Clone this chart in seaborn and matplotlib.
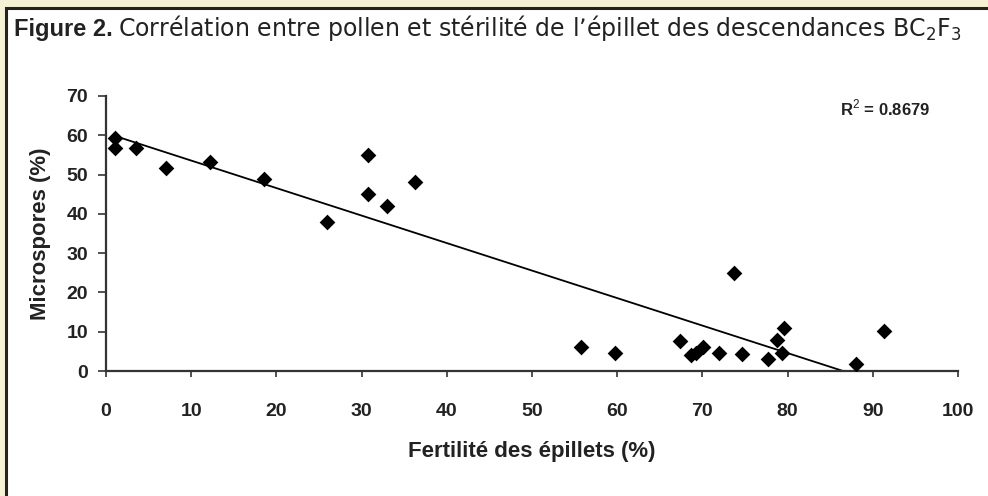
import matplotlib
matplotlib.use("Agg")
import matplotlib.pyplot as plt
from matplotlib.patches import Rectangle
import seaborn as sns
import pandas as pd

# values
fertilite = [1.0, 1.0, 3.5, 7.0, 12.2, 18.6, 25.9, 30.7, 30.7, 33.0, 36.3,
             55.8, 59.7, 67.4, 68.7, 69.3, 70.1, 72.0, 74.6, 73.7, 77.7,
             78.7, 79.6, 79.4, 88.0, 91.3]
microspores = [59.2, 56.8, 56.8, 51.8, 53.1, 48.9, 37.9, 55.0, 45.1, 42.1, 48.2,
               6.0, 4.7, 7.6, 4.2, 4.7, 6.0, 4.7, 4.4, 24.9, 3.1,
               7.9, 10.9, 4.5, 1.8, 10.2]
x_ticks = [0, 10, 20, 30, 40, 50, 60, 70, 80, 90, 100]
y_ticks = [0, 10, 20, 30, 40, 50, 60, 70]
r2_label = "R$^2$ = 0.8679"

df = pd.DataFrame({"fert": fertilite, "micro": microspores})

sns.set_style("white")
plt.rcParams["font.family"] = ["Liberation Sans", "DejaVu Sans"]
plt.rcParams["mathtext.fontset"] = "custom"
plt.rcParams["mathtext.rm"] = "Liberation Sans"
plt.rcParams["mathtext.bf"] = "Liberation Sans:bold"

fig = plt.figure(figsize=(9.88, 4.96), dpi=100)
fig.patch.set_facecolor("#f4f1d4")
# white frame behind the chart
frame = Rectangle((5.5 / 988, -0.1), 1.1, 1 - 7.5 / 496 + 0.1,
                  transform=fig.transFigure, facecolor="white",
                  edgecolor="#222222", linewidth=2.2, zorder=-5)
fig.patches.append(frame)

ax = fig.add_axes([106 / 988, 1 - 371 / 496, 852 / 988, 275 / 496])
ax.set_facecolor("none")
ax.set_zorder(2)

sns.regplot(data=df, x="fert", y="micro", ax=ax, ci=None, truncate=True,
            marker="D",
            scatter_kws={"s": 64, "color": "black", "alpha": 1,
                         "linewidths": 0, "zorder": 3},
            line_kws={"color": "black", "linewidth": 1.3, "zorder": 2})

ax.set_xlim(0, 100)
ax.set_ylim(0, 70)
ax.set_xticks(x_ticks)
ax.set_yticks(y_ticks)
sns.despine(ax=ax)
for s in ["left", "bottom"]:
    ax.spines[s].set_color("#333333")
    ax.spines[s].set_linewidth(1.6)
ax.tick_params(axis="x", direction="out", length=4, width=1.2, color="#333333",
               pad=19, labelsize=14, bottom=True)
ax.tick_params(axis="y", direction="out", length=6, width=1.2, color="#333333",
               pad=7, labelsize=14, left=True)
for lab in ax.get_xticklabels() + ax.get_yticklabels():
    lab.set_fontweight("bold")
    lab.set_color("#222222")

ax.set_xlabel("Fertilité des épillets (%)", fontsize=16, fontweight="bold",
              color="#222222", labelpad=15)
ax.set_ylabel("Microspores (%)", fontsize=16, fontweight="bold",
              color="#222222", labelpad=11)

ax.text(0.967, 0.955, r2_label, transform=ax.transAxes, ha="right", va="center",
        fontsize=12, fontweight="bold", color="#222222")

# title: bold lead, then regular text
renderer = fig.canvas.get_renderer()
t1 = fig.text(14 / 988, 1 - 36 / 496, "Figure 2.", fontsize=17,
              fontweight="bold", color="#222222", family="Liberation Sans")
bb = t1.get_window_extent(renderer)
fig.text(bb.x1 / 988 + 5 / 988, 1 - 36 / 496,
         "Corrélation entre pollen et stérilité de l\u2019épillet des descendances BC$_2$F$_3$",
         fontsize=17, color="#222222", family="DejaVu Sans",
         math_fontfamily="dejavusans")

fig.savefig("out.png", dpi=100, facecolor=fig.get_facecolor())
